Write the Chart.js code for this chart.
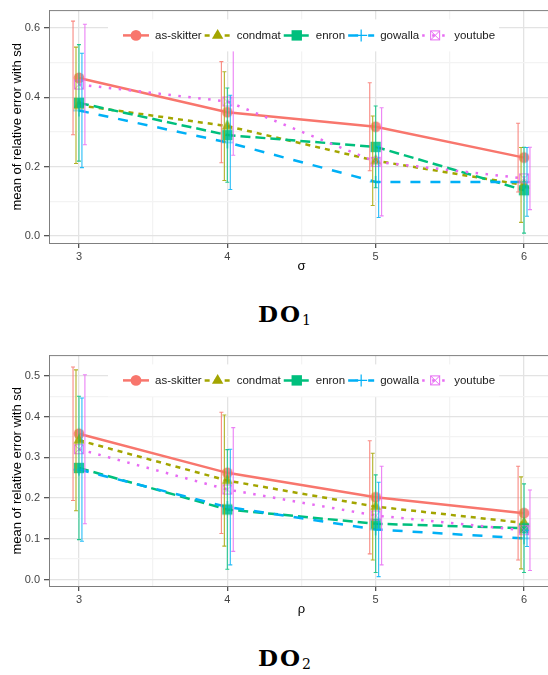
<!DOCTYPE html>
<html>
<head>
<meta charset="utf-8">
<script src="https://cdn.jsdelivr.net/npm/chart.js@4/dist/chart.umd.min.js"></script>
<style>
html, body { margin: 0; padding: 0; background: #fff; overflow: hidden; width: 548px; height: 675px; }
body { position: relative; }
canvas { position: absolute; left: 0; }
.ttl { position: absolute; left: 258px; font-family: "DejaVu Serif", serif; font-weight: bold; font-size: 23px; line-height: 23px; letter-spacing: 2px; color: #000; white-space: nowrap; }
.ttl sub { font-size: 14px; font-weight: normal; vertical-align: -3px; letter-spacing: 0; }
</style>
</head>
<body>
<canvas id="c1" width="560" height="275" style="top:0px"></canvas>
<div class="ttl" style="top:302px">DO<sub>1</sub></div>
<canvas id="c2" width="560" height="273" style="top:345px"></canvas>
<div class="ttl" style="top:646px">DO<sub>2</sub></div>
<script>
const categories = [3, 4, 5, 6];
const seriesNames = ['as-skitter', 'condmat', 'enron', 'gowalla', 'youtube'];

// DO1 (x = sigma): mean and sd, one row per series
const sigmaMean = [
  [0.456, 0.357, 0.315, 0.226],
  [0.377, 0.317, 0.217, 0.147],
  [0.384, 0.291, 0.257, 0.132],
  [0.362, 0.270, 0.156, 0.156],
  [0.437, 0.388, 0.214, 0.166]
];
const sigmaSd = [
  [0.164, 0.146, 0.127, 0.099],
  [0.168, 0.157, 0.129, 0.108],
  [0.168, 0.136, 0.118, 0.124],
  [0.165, 0.136, 0.103, 0.099],
  [0.174, 0.155, 0.156, 0.090]
];
// DO2 (x = rho)
const rhoMean = [
  [0.358, 0.262, 0.202, 0.163],
  [0.342, 0.243, 0.179, 0.139],
  [0.274, 0.172, 0.137, 0.126],
  [0.270, 0.178, 0.123, 0.101],
  [0.320, 0.221, 0.157, 0.121]
];
const rhoSd = [
  [0.164, 0.149, 0.139, 0.115],
  [0.173, 0.161, 0.131, 0.113],
  [0.176, 0.147, 0.120, 0.109],
  [0.176, 0.142, 0.116, 0.020],
  [0.183, 0.152, 0.121, 0.099]
];
const sigmaTicks = [0, 0.2, 0.4, 0.6];
const rhoTicks = [0, 0.1, 0.2, 0.3, 0.4, 0.5];

const colors = ['#F8766D', '#A3A500', '#00BF7D', '#00B0F6', '#E76BF3'];
const dashes = [[], [5, 5], [10, 5], [10, 10], [2.5, 7.5]];
const dodge = [-0.04, -0.02, 0, 0.02, 0.04];
const FONT = 'Liberation Sans, Arial, sans-serif';

function hexA(hex, a) {
  const n = parseInt(hex.slice(1), 16);
  return `rgba(${n >> 16},${(n >> 8) & 255},${n & 255},${a})`;
}

function drawMarker(g, i, x, y) {
  g.save();
  g.fillStyle = colors[i];
  g.strokeStyle = colors[i];
  g.setLineDash([]);
  if (i === 0) {
    g.beginPath(); g.arc(x, y, 5.4, 0, Math.PI * 2); g.fill();
  } else if (i === 1) {
    g.beginPath(); g.moveTo(x, y - 6.4); g.lineTo(x + 5.7, y + 3.4); g.lineTo(x - 5.7, y + 3.4); g.closePath(); g.fill();
  } else if (i === 2) {
    g.fillRect(x - 5.2, y - 5.2, 10.4, 10.4);
  } else if (i === 3) {
    g.lineWidth = 1.2;
    g.beginPath(); g.moveTo(x - 6, y); g.lineTo(x + 6, y); g.moveTo(x, y - 6); g.lineTo(x, y + 6); g.stroke();
  } else {
    g.lineWidth = 1;
    g.strokeRect(x - 4.5, y - 4.5, 9, 9);
    g.beginPath(); g.moveTo(x - 4.5, y - 4.5); g.lineTo(x + 4.5, y + 4.5); g.moveTo(x + 4.5, y - 4.5); g.lineTo(x - 4.5, y + 4.5); g.stroke();
  }
  g.restore();
}

function markerCanvas(i) {
  const c = document.createElement('canvas');
  c.width = 18; c.height = 18;
  const g = c.getContext('2d');
  g.globalAlpha = 0.85;
  drawMarker(g, i, 9, 9);
  return c;
}

const isIn = (list, v) => list.some(m => Math.abs(m - v) < 1e-9);

function makeChart(id, means, sds, majorY, yMin, yMax, xTitle, padTop) {
  const stepY = majorY[1] - majorY[0];
  const minorY = majorY.map(v => v + stepY / 2).filter(v => v < yMax);
  const minorX = categories.slice(0, -1).map(v => v + 0.5);

  const datasets = [];
  // lines first (higher order = drawn earlier), then markers
  seriesNames.forEach((name, i) => {
    datasets.push({
      label: name,
      data: categories.map((x, j) => ({ x: x, y: means[i][j] })),
      borderColor: colors[i],
      borderWidth: 2.5,
      borderDash: dashes[i],
      borderCapStyle: 'butt',
      pointRadius: 0,
      fill: false,
      tension: 0,
      order: 20 - i
    });
  });
  seriesNames.forEach((name, i) => {
    datasets.push({
      label: name + ' points',
      data: categories.map((x, j) => ({ x: x, y: means[i][j] })),
      showLine: false,
      pointStyle: markerCanvas(i),
      pointRadius: 6,
      borderWidth: 0,
      order: 10 - i
    });
  });

  const errorBars = {
    id: 'errorBars',
    afterDatasetsDraw(chart) {
      const g = chart.ctx, xs = chart.scales.x, ys = chart.scales.y;
      g.save();
      g.lineWidth = 1.1;
      seriesNames.forEach((name, i) => {
        g.strokeStyle = hexA(colors[i], 0.85);
        categories.forEach((x, j) => {
          const px = xs.getPixelForValue(x + dodge[i]);
          const top = ys.getPixelForValue(means[i][j] + sds[i][j]);
          const bot = ys.getPixelForValue(means[i][j] - sds[i][j]);
          g.beginPath();
          g.moveTo(px, top); g.lineTo(px, bot);
          g.moveTo(px - 2, top); g.lineTo(px + 2, top);
          g.moveTo(px - 2, bot); g.lineTo(px + 2, bot);
          g.stroke();
        });
      });
      g.restore();
    }
  };

  const frameAndLegend = {
    id: 'frameAndLegend',
    afterDraw(chart) {
      const g = chart.ctx, a = chart.chartArea;
      g.save();
      g.strokeStyle = '#7F7F7F';
      g.lineWidth = 1;
      g.beginPath();
      g.moveTo(a.left, a.top); g.lineTo(a.right, a.top); g.lineTo(a.right, a.bottom);
      g.stroke();

      // legend inside the panel
      const cy = a.top + 24.8;
      g.font = '11.5px ' + FONT;
      let kx = 123;
      const items = seriesNames.map(n => {
        const it = { kx: kx, tx: kx + 32 };
        kx = it.tx + g.measureText(n).width + 3;
        return it;
      });
      g.fillStyle = '#fff';
      g.fillRect(108, cy - 16, kx + 1 - 108, 32);
      seriesNames.forEach((n, i) => {
        const it = items[i];
        g.strokeStyle = colors[i];
        g.lineWidth = 2.5;
        g.lineCap = 'butt';
        g.setLineDash(dashes[i]);
        g.beginPath(); g.moveTo(it.kx, cy); g.lineTo(it.kx + 26, cy); g.stroke();
        g.setLineDash([]);
        drawMarker(g, i, it.kx + 13, cy);
        g.fillStyle = '#1A1A1A';
        g.textBaseline = 'middle';
        g.textAlign = 'left';
        g.fillText(n, it.tx, cy + 0.5);
      });
      g.restore();
    }
  };

  return new Chart(document.getElementById(id), {
    type: 'line',
    data: { datasets: datasets },
    plugins: [errorBars, frameAndLegend],
    options: {
      responsive: false,
      animation: false,
      events: [],
      layout: { padding: { top: padTop, right: 6, left: 0, bottom: 0 } },
      plugins: { legend: { display: false }, tooltip: { enabled: false } },
      scales: {
        x: {
          type: 'linear',
          min: 2.798,
          max: 6.202,
          afterBuildTicks: s => { s.ticks = categories.concat(minorX).sort((p, q) => p - q).map(v => ({ value: v })); },
          afterFit: s => { s.height = 32; },
          grid: {
            color: c => isIn(categories, c.tick.value) ? '#E3E3E3' : '#F3F3F3',
            lineWidth: 1.3,
            tickLength: 5,
            tickColor: c => isIn(categories, c.tick.value) ? '#555' : 'rgba(0,0,0,0)'
          },
          border: { color: '#7F7F7F', width: 1 },
          ticks: {
            autoSkip: false, maxRotation: 0, padding: 2,
            color: '#444',
            font: { family: FONT, size: 11 },
            callback: v => isIn(categories, v) ? String(Math.round(v)) : ''
          },
          title: { display: true, text: xTitle, color: '#000', font: { family: FONT, size: 13 }, padding: { top: 0, bottom: 1 } }
        },
        y: {
          min: yMin,
          max: yMax,
          afterBuildTicks: s => { s.ticks = majorY.concat(minorY).sort((p, q) => p - q).map(v => ({ value: v })); },
          afterFit: s => { s.width = 49; },
          grid: {
            color: c => isIn(majorY, c.tick.value) ? '#E3E3E3' : '#F3F3F3',
            lineWidth: 1.3,
            tickLength: 5,
            tickColor: c => isIn(majorY, c.tick.value) ? '#555' : 'rgba(0,0,0,0)'
          },
          border: { color: '#7F7F7F', width: 1 },
          ticks: {
            autoSkip: false, padding: 4,
            color: '#444',
            font: { family: FONT, size: 11 },
            callback: v => isIn(majorY, v) ? v.toFixed(1) : ''
          },
          title: { display: true, text: 'mean of relative error with sd', color: '#000', font: { family: FONT, size: 13 }, padding: { top: 10, bottom: 0 } }
        }
      }
    }
  });
}

makeChart('c1', sigmaMean, sigmaSd, sigmaTicks, -0.0204, 0.6503, 'σ', 2.5);
makeChart('c2', rhoMean, rhoSd, rhoTicks, -0.016, 0.55, 'ρ', 3.3);
</script>
</body>
</html>
